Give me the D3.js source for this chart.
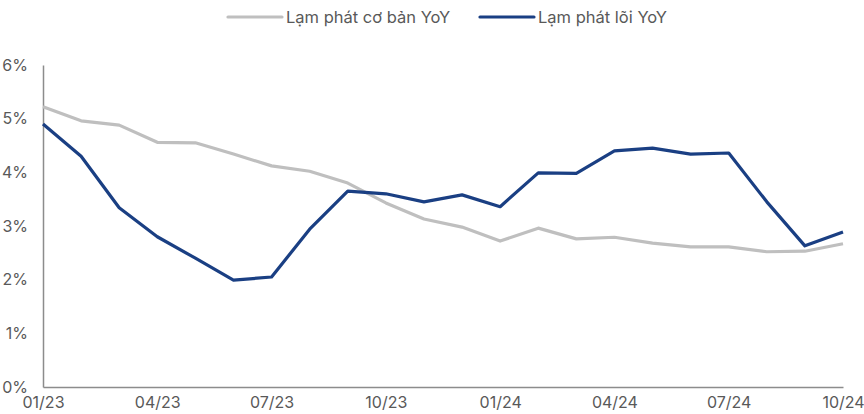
<!DOCTYPE html>
<html>
<head>
<meta charset="utf-8">
<script src="https://cdn.jsdelivr.net/npm/d3@7"></script>
<style>
body { margin: 0; background: #fff; }
text { font-family: Inter, "Liberation Sans", Arial, sans-serif; fill: #595959; }
</style>
</head>
<body>
<script>
var width = 864,
    height = 414;

// data
var months = ["01/23","02/23","03/23","04/23","05/23","06/23","07/23","08/23","09/23","10/23","11/23","12/23",
              "01/24","02/24","03/24","04/24","05/24","06/24","07/24","08/24","09/24","10/24"];
var coBan = [5.22,4.96,4.88,4.56,4.55,4.34,4.12,4.02,3.80,3.43,3.13,2.98,
             2.72,2.96,2.76,2.79,2.68,2.61,2.61,2.52,2.53,2.67];
var loi = [4.90,4.30,3.34,2.80,2.40,1.99,2.05,2.94,3.65,3.60,3.45,3.58,
           3.36,3.99,3.98,4.40,4.45,4.34,4.36,3.45,2.63,2.89];
var yTicks = [0,1,2,3,4,5,6];
var xTickLabels = ["01/23","04/23","07/23","10/23","01/24","04/24","07/24","10/24"];

var seriesNames = ["Lạm phát cơ bản YoY", "Lạm phát lõi YoY"];
var colors = ["#bfbfbf", "#1a3f83"];

var margin = {top: 65, right: 21, bottom: 27, left: 43};

var svg = d3.select("body")
    .append("svg")
    .attr("width", width)
    .attr("height", height);

var x = d3.scalePoint()
    .domain(months)
    .range([margin.left, width - margin.right]);

var y = d3.scaleLinear()
    .domain([0, 6])
    .range([height - margin.bottom, margin.top]);

// y axis
var yAxis = svg.append("g")
    .attr("transform", "translate(" + margin.left + ",0)")
    .call(d3.axisLeft(y).tickValues(yTicks).tickSize(0).tickPadding(15)
        .tickFormat(function(d) { return d + "%"; }));
yAxis.select(".domain").attr("stroke", "#8c8c8c").attr("stroke-width", 1.5);
yAxis.selectAll("text").style("font-size", "16px").attr("fill", "#595959");

// x axis
var xAxis = svg.append("g")
    .attr("transform", "translate(0," + (height - margin.bottom) + ")")
    .call(d3.axisBottom(x).tickValues(xTickLabels).tickSize(0).tickPadding(10));
xAxis.select(".domain").attr("stroke", "#8c8c8c").attr("stroke-width", 1.5);
xAxis.selectAll("text").style("font-size", "16px").attr("fill", "#595959");

// lines
var line = d3.line()
    .x(function(d, i) { return x(months[i]); })
    .y(function(d) { return y(d); });

[coBan, loi].forEach(function(s, k) {
    svg.append("path")
        .datum(s)
        .attr("fill", "none")
        .attr("stroke", colors[k])
        .attr("stroke-width", 3.2)
        .attr("stroke-linejoin", "round")
        .attr("d", line);
});

// legend
var legendX = [228, 480];
seriesNames.forEach(function(name, k) {
    var g = svg.append("g").attr("transform", "translate(" + legendX[k] + ",17)");
    g.append("line")
        .attr("x1", 0).attr("x2", 54)
        .attr("stroke", colors[k])
        .attr("stroke-width", 3.2)
        .attr("stroke-linecap", "round");
    g.append("text")
        .attr("x", 58)
        .attr("dy", "0.35em")
        .style("font-size", "16.5px")
        .text(name);
});
</script>
</body>
</html>
